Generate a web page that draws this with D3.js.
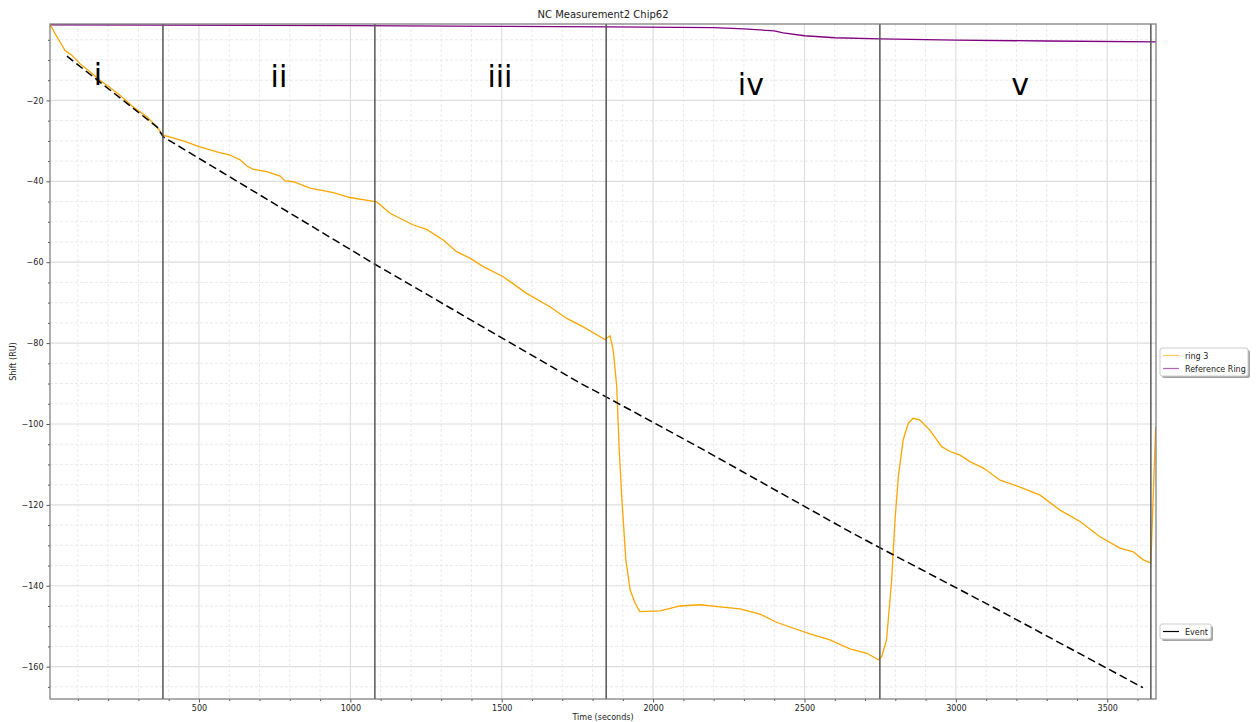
<!DOCTYPE html>
<html>
<head>
<meta charset="utf-8">
<script src="https://cdn.jsdelivr.net/npm/d3@7"></script>
<style>
  body { margin: 0; background: #fff; }
  svg { font-family: "DejaVu Sans", sans-serif; }
</style>
</head>
<body>
<svg></svg>
<script>
// values (time in seconds, shift in RU)
const ring3_t = [8, 24, 41, 57, 80, 107, 140, 173, 206, 239, 283, 327, 360, 382, 448, 503, 559, 602, 636, 658, 678, 724, 768, 784, 812, 867, 944, 999, 1087, 1131, 1208, 1252, 1307, 1351, 1395, 1439, 1505, 1582, 1659, 1715, 1769, 1841, 1858, 1868, 1880, 1888, 1897, 1910, 1924, 1940, 1956, 2023, 2089, 2155, 2221, 2287, 2353, 2403, 2452, 2518, 2584, 2650, 2706, 2744, 2755, 2771, 2788, 2799, 2810, 2826, 2843, 2859, 2881, 2914, 2953, 2981, 3014, 3046, 3091, 3146, 3212, 3278, 3344, 3410, 3476, 3542, 3586, 3619, 3644, 3660]
const ring3_y = [-1.1, -3.4, -5.5, -7.6, -8.8, -10.9, -12.9, -15.0, -16.8, -18.7, -21.6, -24.0, -26.5, -28.6, -30.0, -31.5, -32.7, -33.5, -34.7, -36.2, -37.0, -37.6, -38.7, -39.9, -40.1, -41.7, -42.8, -44.0, -45.1, -47.9, -50.8, -51.9, -54.5, -57.4, -59.0, -61.1, -63.6, -67.7, -71.0, -73.9, -76.0, -79.1, -78.2, -81.7, -90.8, -106.4, -118.8, -133.6, -141.0, -144.2, -146.4, -146.2, -145.0, -144.7, -145.2, -145.7, -147.0, -148.9, -150.2, -151.9, -153.4, -155.6, -156.7, -158.3, -157.5, -153.4, -138.5, -123.7, -113.0, -103.9, -99.8, -98.6, -99.0, -101.5, -105.6, -106.8, -107.7, -109.3, -110.9, -113.9, -115.6, -117.6, -121.3, -124.1, -127.9, -130.7, -131.6, -133.6, -134.4, -100.7]

const ref_t = [8, 400, 1000, 1500, 1850, 2200, 2300, 2400, 2430, 2500, 2600, 2750, 3000, 3300, 3660]
const ref_y = [-1.3, -1.4, -1.5, -1.7, -1.8, -2.0, -2.3, -2.8, -3.3, -4.0, -4.5, -4.8, -5.1, -5.3, -5.5]

// dashed baseline drift
const drift_t = [64, 362, 382, 1081, 1620, 1759, 1845, 2155, 2651, 2749, 3146, 3618]
const drift_y = [-9.05, -26.6, -29.0, -60.5, -83.9, -89.9, -93.3, -105.9, -126.7, -130.6, -146.2, -165.2]

const events = [381, 1081, 1845, 2749, 3644]
const phaseLabels = ['i', 'ii', 'iii', 'iv', 'v']
const phase_t = [166, 764, 1494, 2323, 3212]
const phase_y = [-16.2, -16.7, -16.7, -18.7, -18.7]

const xTicks = [500, 1000, 1500, 2000, 2500, 3000, 3500]
const yTicks = [-20, -40, -60, -80, -100, -120, -140, -160]

let Width = 1257
let Height = 722
let margin = {left: 50, top: 24, right: 101, bottom: 23}
let w = Width - margin.left - margin.right
let h = Height - margin.top - margin.bottom

let svg = d3.select('svg').attr('width', Width).attr('height', Height)
let g = svg.append('g').attr('transform', `translate(${margin.left},${margin.top})`)

let x = d3.scaleLinear().domain([8, 3661]).range([0, w])
let y = d3.scaleLinear().domain([-168, -1.1]).range([h, 0])

// grid: minor dashed, major solid
let xMinor = d3.range(100, 3661, 100).filter(d => d % 500 != 0)
let yMinor = d3.range(-165, -1, 5).filter(d => d % 20 != 0)
g.append('g').selectAll('line').data(xMinor).enter().append('line')
  .attr('x1', d => x(d)).attr('x2', d => x(d)).attr('y1', 0).attr('y2', h)
  .attr('stroke', '#eaeaea').attr('stroke-dasharray', '3,2')
g.append('g').selectAll('line').data(yMinor).enter().append('line')
  .attr('y1', d => y(d)).attr('y2', d => y(d)).attr('x1', 0).attr('x2', w)
  .attr('stroke', '#eaeaea').attr('stroke-dasharray', '3,2')
g.append('g').selectAll('line').data(xTicks).enter().append('line')
  .attr('x1', d => x(d)).attr('x2', d => x(d)).attr('y1', 0).attr('y2', h)
  .attr('stroke', '#dedede').attr('stroke-width', 1.2)
g.append('g').selectAll('line').data(yTicks).enter().append('line')
  .attr('y1', d => y(d)).attr('y2', d => y(d)).attr('x1', 0).attr('x2', w)
  .attr('stroke', '#dedede').attr('stroke-width', 1.2)

// axes
g.append('g').attr('transform', `translate(0,${h})`)
  .call(d3.axisBottom(x).tickValues(xTicks).tickSize(3.5).tickPadding(3).tickFormat(d3.format('d')))
g.append('g').attr('transform', `translate(0,${h})`)
  .call(d3.axisBottom(x).tickValues(xMinor).tickSize(2).tickFormat(''))
g.append('g')
  .call(d3.axisLeft(y).tickValues(yTicks).tickSize(3.5).tickPadding(3).tickFormat(d => '\u2212' + Math.abs(d)))
g.append('g').call(d3.axisLeft(y).tickValues(yMinor).tickSize(2).tickFormat(''))
g.selectAll('.domain').remove()
g.selectAll('.tick line').attr('stroke', '#555')
g.selectAll('.tick text').attr('font-size', 8).attr('fill', '#222').attr('font-family', 'DejaVu Sans')

// clip
svg.append('clipPath').attr('id', 'clip').append('rect').attr('width', w).attr('height', h)
let plot = g.append('g').attr('clip-path', 'url(#clip)')

let toPts = (ts, ys) => ts.map((t, i) => [t, ys[i]])
let line = d3.line().x(d => x(d[0])).y(d => y(d[1]))

plot.append('path').datum(toPts(ref_t, ref_y)).attr('d', line)
  .attr('fill', 'none').attr('stroke', '#800080').attr('stroke-width', 1.3)
plot.append('path').datum(toPts(ring3_t, ring3_y)).attr('d', line)
  .attr('fill', 'none').attr('stroke', '#ffa500').attr('stroke-width', 1.3)
plot.append('path').datum(toPts(drift_t, drift_y)).attr('d', line)
  .attr('fill', 'none').attr('stroke', '#000').attr('stroke-width', 1.5).attr('stroke-dasharray', '8,4')

// event markers
plot.selectAll('.event').data(events).enter().append('line')
  .attr('x1', d => x(d)).attr('x2', d => x(d)).attr('y1', 0).attr('y2', h)
  .attr('stroke', '#555').attr('stroke-width', 1.5)

// phase labels
g.selectAll('.phase').data(phaseLabels).enter().append('text')
  .attr('x', (d, i) => x(phase_t[i])).attr('y', (d, i) => y(phase_y[i]))
  .attr('text-anchor', 'middle').attr('font-size', 30).attr('fill', '#000')
  .text(d => d)

// frame
g.append('rect').attr('width', w).attr('height', h).attr('fill', 'none').attr('stroke', '#777').attr('stroke-width', 1.2)

// title and labels
svg.append('text').attr('x', margin.left + w / 2).attr('y', 18).attr('text-anchor', 'middle')
  .attr('font-size', 10).attr('fill', '#222').text('NC Measurement2 Chip62')
svg.append('text').attr('x', margin.left + w / 2).attr('y', 720).attr('text-anchor', 'middle')
  .attr('font-size', 8).attr('fill', '#222').text('Time (seconds)')
svg.append('text').attr('transform', `translate(16,${margin.top + h / 2}) rotate(-90)`).attr('text-anchor', 'middle')
  .attr('font-size', 8).attr('fill', '#222').text('Shift (RU)')

// legends
function legend(x0, y0, bw, items) {
  let lg = svg.append('g').attr('transform', `translate(${x0},${y0})`)
  let bh = items.length * 13 + 2
  lg.append('rect').attr('x', 2).attr('y', 2).attr('width', bw).attr('height', bh).attr('rx', 2)
    .attr('fill', '#666').attr('opacity', 0.6)
  lg.append('rect').attr('width', bw).attr('height', bh).attr('rx', 2)
    .attr('fill', '#fff').attr('stroke', '#ccc')
  items.forEach((it, i) => {
    let yy = 7.5 + i * 13
    lg.append('line').attr('x1', 3).attr('x2', 19).attr('y1', yy).attr('y2', yy)
      .attr('stroke', it.color).attr('stroke-width', 1.2).attr('opacity', it.op)
    lg.append('text').attr('x', 25).attr('y', yy + 3).attr('font-size', 8).attr('fill', '#222').text(it.name)
  })
}
legend(1160, 348, 88, [{name: 'ring 3', color: '#ffa500', op: 0.6}, {name: 'Reference Ring', color: '#800080', op: 0.6}])
legend(1160, 624, 51, [{name: 'Event', color: '#000', op: 1}])
</script>
</body>
</html>
